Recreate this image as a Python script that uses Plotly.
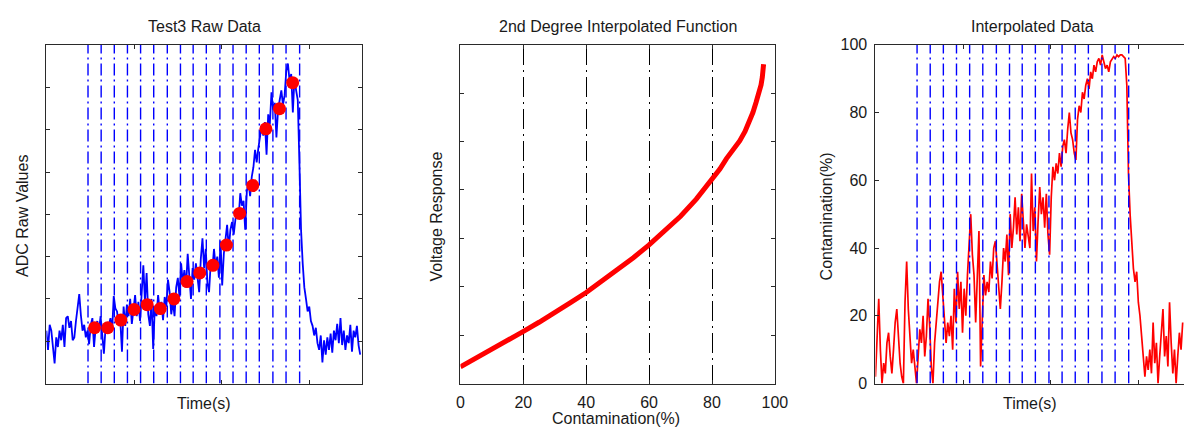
import numpy as np
import plotly.graph_objects as go

# ---------------- data ----------------
# Test3 raw ADC samples (arbitrary ADC units)
raw_adc = [55, 35, 61, 55, 38, 21, 48, 38, 55, 45, 61, 38, 68, 70, 58, 65, 45, 48, 65, 81,
           93, 71, 55, 61, 48, 55, 41, 61, 68, 38, 58, 65, 55, 70, 48, 31, 58, 55, 61, 68,
           55, 91, 78, 75, 61, 65, 33, 80,
           60, 82, 70, 88, 62, 80, 92, 70, 85, 65, 100, 123, 85, 115, 72, 60, 88, 36, 80, 70,
           92, 75, 85, 66, 90, 80, 108, 95, 72, 85, 70, 100, 110, 90, 125, 105, 118, 100, 135, 115,
           88, 120, 108, 125, 112, 95, 130, 151,
           120, 140, 105, 95, 125, 118, 140, 122, 132, 110, 148, 102, 135, 150, 165, 140, 160, 168, 155, 170,
           180, 172, 198, 185, 190, 160, 200, 210, 195, 215, 225, 243, 230, 245, 255, 268, 258, 272, 238, 280,
           270, 303, 285, 292, 256, 285, 295, 305,
           290, 300, 325, 333, 315, 322, 282, 318, 305, 295, 230, 160, 125, 100, 88, 75, 80, 65, 60, 50,
           58, 42, 35, 50, 22, 45, 30, 48, 35, 52, 32, 55, 45, 62, 42, 68, 40, 55, 35, 50,
           42, 61, 33, 55, 48, 60, 40, 30]
sample_period = 18.75
raw_time = np.arange(len(raw_adc)) * sample_period

# segment averages (red dots)
marker_time = [550, 700, 850, 1000, 1150, 1300, 1455, 1605, 1750, 1900, 2055, 2205, 2355, 2505, 2660, 2810]
marker_adc = [58, 58, 66, 77, 82, 78, 88, 106, 115, 123, 144, 177, 206, 265, 286, 313]

# segment boundaries (blue dash-dot lines)
segment_times = [475, 625, 775, 925, 1075, 1225, 1380, 1530, 1675, 1825, 1980, 2130, 2280, 2430,
                 2585, 2735, 2890]

# 2nd degree calibration function
cal_contamination = [0, 5, 10.4, 15, 19.9, 25, 30.3, 35, 40, 45, 50.2, 55, 59.9, 65, 70, 75, 80.1,
                     82.5, 84.6, 86.8, 88.8, 90.5, 92, 93, 94, 94.9, 95.6, 96.0, 96.3, 96.4]
cal_voltage = [0.673, 0.762, 0.855, 0.943, 1.036, 1.133, 1.235, 1.335, 1.440, 1.555, 1.682, 1.800,
               1.930, 2.075, 2.228, 2.405, 2.609, 2.715, 2.824, 2.915, 3.006, 3.105, 3.205, 3.300,
               3.404, 3.495, 3.585, 3.665, 3.751, 3.800]

# interpolated contamination (%)
contamination = [2, 15, 25, 10, 0, 6, 3, 12, 15, 8, 3, 10, 18, 22, 14, 6, 2, 0, 24, 36,
                 22, 12, 6, 10, 4, 0, 8, 16, 12, 20, 8, 14, 25, 17, 5, 0, 12, 18, 22, 30,
                 33, 26, 20, 12, 18, 14, 20,
                 10, 28, 18, 33, 22, 30, 15, 28, 20, 32, 40, 50, 38, 32, 18, 30, 45, 5, 20, 32,
                 26, 30, 27, 36, 31, 40, 42, 35, 28, 22, 30, 40, 36, 44, 32, 50, 40, 46, 55, 44,
                 52, 42, 56, 48, 40, 47, 44,
                 40, 62, 45, 52, 36, 48, 58, 50, 55, 46, 56, 44, 38, 55, 64, 60, 65, 62, 68, 64,
                 70, 72, 68, 75, 80, 74, 72, 68, 66, 78, 82, 80, 86, 84, 88, 90, 87, 92, 90, 94,
                 92, 95, 96, 94, 97, 95, 93,
                 94, 92, 95, 96, 96.5, 96, 97, 96.5, 97, 97, 96.5, 96, 88, 62, 50, 42, 34, 30, 33, 24,
                 20, 14, 8, 2, 8, 4, 10, 3, 18, 6, 12, 0, 8, 15, 22, 8, 14, 5, 24, 12,
                 3, 10, 0, 8, 15, 10, 18]
cont_time = np.arange(len(contamination)) * sample_period

# ---------------- styling ----------------
FONT = "Liberation Sans, Arial, Helvetica, sans-serif"
TXT = "#1a1a1a"
AX = "#2a2a2a"
BLUE = "#0000ff"
RED = "#ff0000"
DASHDOT = "12px,4px,2px,4px"

RAW_RANGE = [0, 352.4]
CONT_RANGE = [0, 100]


def vlines(xs, yr):
    x, y = [], []
    for v in xs:
        x += [v, v, None]
        y += [yr[0], yr[1], None]
    return x, y


fig = go.Figure()

# left panel
fig.add_trace(go.Scatter(x=raw_time, y=raw_adc, mode="lines",
                         line=dict(color=BLUE, width=1.8), xaxis="x", yaxis="y",
                         showlegend=False, hoverinfo="skip"))
lx, ly = vlines(segment_times, RAW_RANGE)
fig.add_trace(go.Scatter(x=lx, y=ly, mode="lines",
                         line=dict(color=BLUE, width=1.4, dash=DASHDOT),
                         xaxis="x", yaxis="y", showlegend=False, hoverinfo="skip"))
fig.add_trace(go.Scatter(x=marker_time, y=marker_adc, mode="markers",
                         marker=dict(color=RED, size=13, line=dict(width=0)),
                         xaxis="x", yaxis="y", showlegend=False))

# middle panel
fig.add_trace(go.Scatter(x=cal_contamination, y=cal_voltage, mode="lines",
                         line=dict(color=RED, width=5),
                         xaxis="x2", yaxis="y2", showlegend=False))

# right panel
fig.add_trace(go.Scatter(x=cont_time, y=contamination, mode="lines",
                         line=dict(color=RED, width=1.7), xaxis="x3", yaxis="y3",
                         showlegend=False, hoverinfo="skip"))
rx, ry = vlines(segment_times, CONT_RANGE)
fig.add_trace(go.Scatter(x=rx, y=ry, mode="lines",
                         line=dict(color=BLUE, width=1.4, dash=DASHDOT),
                         xaxis="x3", yaxis="y3", showlegend=False, hoverinfo="skip"))

W, H = 1197, 437
Y0 = 1 - 390.7 / H
Y1 = 1 - 38.3 / H

base = dict(showline=True, linecolor=AX, linewidth=1, mirror="ticks", ticks="inside",
            ticklen=4, tickcolor=AX, tickwidth=1, showgrid=False, zeroline=False,
            tickfont=dict(family=FONT, size=16, color=TXT), fixedrange=True)

fig.update_layout(
    width=W, height=H, margin=dict(l=0, r=0, t=0, b=0),
    paper_bgcolor="white", plot_bgcolor="white",
    font=dict(family=FONT, size=16, color=TXT),
    xaxis=dict(base, domain=[43 / W, 363 / W], range=[0, 3600], tickvals=[1000, 2000, 3000],
               showticklabels=False, anchor="y"),
    yaxis=dict(base, domain=[Y0, Y1], range=RAW_RANGE, tick0=0, dtick=44,
               showticklabels=False, anchor="x"),
    xaxis2=dict(base, domain=[463 / W, 782 / W], range=[0, 100], tick0=0, dtick=20,
                showgrid=True, gridcolor="#000000", gridwidth=1, griddash="20px,5px,2px,5px",
                ticklabelstandoff=4, anchor="y2"),
    yaxis2=dict(base, domain=[Y0, Y1], range=[0.5, 4.0], tick0=0.5, dtick=0.5,
                showticklabels=False, anchor="x2"),
    xaxis3=dict(base, domain=[884 / W, 1.0], range=[0, 3600 * 313 / 320],
                tickvals=[1000, 2000, 3000], showticklabels=False, anchor="y3"),
    yaxis3=dict(base, domain=[Y0, Y1], range=CONT_RANGE, tick0=0, dtick=20,
                mirror=False, ticklabelstandoff=4, anchor="x3"),
)

def ann(text, x, y, angle=0, size=16):
    fig.add_annotation(text=text, x=x, y=y, xref="paper", yref="paper",
                       showarrow=False, textangle=angle, xanchor="center", yanchor="middle",
                       font=dict(family=FONT, size=size, color=TXT))

ty = 1 - 19.5 / H
ann("Test3 Raw Data", 203 / W, ty)
ann("2nd Degree Interpolated Function", 622.5 / W, ty)
ann("Interpolated Data", 1043 / W, ty)
ann("Time(s)", 203 / W, 1 - 411 / H)
ann("Contamination(%)", 621 / W, 1 - 427 / H)
ann("Time(s)", 1041 / W, 1 - 411 / H)
yc = 1 - 216.7 / H
ann("ADC Raw Values", 19 / W, yc, angle=-90)
ann("Voltage Response", 438.5 / W, yc, angle=-90)
ann("Contamination(%)", 834 / W, yc, angle=-90)

fig.write_html("out.html")
